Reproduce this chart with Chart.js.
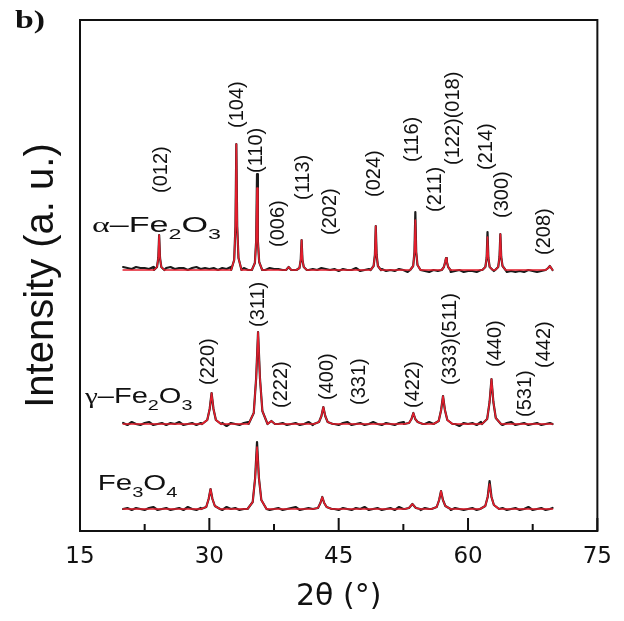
<!DOCTYPE html>
<html>
<head>
<meta charset="utf-8">
<script src="https://cdn.jsdelivr.net/npm/chart.js@4.4.0/dist/chart.umd.min.js"></script>
<style>
  html, body { margin: 0; padding: 0; background: #fff; }
  canvas { display: block; }
</style>
</head>
<body>
<canvas id="xrdChart" width="624" height="621"></canvas>
<script>
// 2theta sampling of the measured (noisy) baseline
const twoTheta = [20, 20.5, 21, 21.5, 22, 22.5, 23, 23.5, 24, 24.5, 25, 25.5, 26, 26.5, 27, 27.5, 28, 28.5, 29, 29.5,
  30, 30.5, 31, 31.5, 32, 32.5, 33, 33.5, 34, 34.5, 35, 35.5, 36, 36.5, 37, 37.5, 38, 38.5, 39, 39.5,
  40, 40.5, 41, 41.5, 42, 42.5, 43, 43.5, 44, 44.5, 45, 45.5, 46, 46.5, 47, 47.5, 48, 48.5, 49, 49.5,
  50, 50.5, 51, 51.5, 52, 52.5, 53, 53.5, 54, 54.5, 55, 55.5, 56, 56.5, 57, 57.5, 58, 58.5, 59, 59.5,
  60, 60.5, 61, 61.5, 62, 62.5, 63, 63.5, 64, 64.5, 65, 65.5, 66, 66.5, 67, 67.5, 68, 68.5, 69, 69.5, 69.8];

// baseline noise of the measured patterns (a.u., relative to each pattern's offset)
const alphaNoise = [3, 2, 1, 3, 2, 2, 1, 3, 2, 1, 2, 3, 1, 2, 2, 0, 2, 3, 1, 2,
  1, 2, 0, 2, 1, 3, 1, 1, 2, 0, 1, 2, 1, 0, 2, 1, 1, 0, 2, 1,
  0, 1, 2, 0, 1, 0, 2, 1, 0, 1, -1, 1, 0, 0, 2, -1, 0, 1, -1, 0,
  1, -1, 0, -1, 1, 0, -2, 0, -1, 0, -1, -2, 0, -1, -1, 0, -2, -1, 0, -2,
  -1, -1, -2, 0, -1, -2, -1, -2, 0, -2, -1, -2, -1, -2, 0, -1, -2, -1, -2, -1, -1];
const gammaNoise = [1, -1, 2, 0, -1, 1, 2, -1, 0, 1, -1, 1, 0, 2, -1, 0, 1, -1, 1, 0,
  2, -1, 0, 1, -2, 1, 0, -1, 1, 2, 0, -1, 1, 0, -1, 2, 0, 1, -1, 0,
  1, -1, 0, 2, -1, 1, 0, -2, 1, 0, -1, 1, 2, -1, 0, 1, -1, 0, 2, 0,
  -1, 1, 0, -1, 1, 2, -1, 0, 1, -1, 0, 2, -1, 1, 0, -1, 1, 0, -2, 1,
  0, 1, -1, 2, 0, -1, 1, 0, -1, 1, 2, -1, 0, 1, -1, 0, 1, -1, 0, 1, 0];
const magNoise = [0, 1, -1, 1, 0, -1, 1, 2, -1, 0, 1, -1, 0, 1, -1, 2, 0, -1, 1, 0,
  -1, 1, 0, -1, 2, 0, 1, -1, 0, 1, -1, 0, 1, 2, -1, 0, 1, -1, 0, 1,
  2, -1, 0, 1, -1, 0, 2, -1, 1, 0, -1, 1, 0, -1, 1, 0, 2, -1, 0, 1,
  -1, 0, 1, -1, 2, 0, -1, 1, 0, -1, 1, 0, 2, -1, 0, 1, -1, 1, 0, -1,
  0, 1, -1, 2, 0, -1, 1, 0, 1, -1, 0, 1, -1, 0, 2, -1, 0, 1, -1, 0, 1];

// peak profiles [2theta, intensity above baseline]
const alphaPeaks = [
  [[23.58, 0], [23.93, 3], [24.08, 12], [24.18, 35], [24.28, 12], [24.43, 3], [24.78, 0]],
  [[32.53, 0], [32.88, 10], [33.03, 44], [33.13, 126], [33.23, 44], [33.38, 12], [33.73, 0]],
  [[34.93, 0], [35.28, 7], [35.43, 29], [35.53, 82], [35.63, 29], [35.78, 8], [36.13, 0]],
  [[38.9, 0], [39.2, 3], [39.5, 0]],
  [[40.10, 0], [40.45, 2], [40.60, 10], [40.70, 30], [40.80, 10], [40.95, 3], [41.30, 0]],
  [[48.70, 0], [49.05, 4], [49.20, 15], [49.30, 44], [49.40, 15], [49.55, 4], [49.90, 0]],
  [[53.29, 0], [53.64, 4], [53.79, 18], [53.89, 50], [53.99, 18], [54.14, 5], [54.49, 0]],
  [[56.95, 0], [57.20, 3], [57.35, 8], [57.45, 12], [57.55, 8], [57.70, 3], [57.95, 0]],
  [[61.66, 0], [62.01, 3], [62.16, 12], [62.26, 33], [62.36, 12], [62.51, 3], [62.86, 0]],
  [[63.15, 0], [63.50, 3], [63.65, 13], [63.75, 36], [63.85, 13], [64.00, 4], [64.35, 0]],
  [[69.0, 0], [69.3, 2], [69.49, 4], [69.65, 2], [69.8, 0]]
];
const gammaPeaks = [
  [[29.16, 0], [29.76, 4], [30.04, 15], [30.26, 31], [30.48, 15], [30.76, 4], [31.36, 0]],
  [[34.55, 0], [35.15, 11], [35.43, 46], [35.65, 92], [35.87, 46], [36.15, 13], [36.75, 0]],
  [[36.8, 0], [37.2, 3], [37.6, 0]],
  [[42.12, 0], [42.72, 2], [43.00, 8], [43.22, 17], [43.44, 8], [43.72, 2], [44.32, 0]],
  [[52.56, 0], [53.16, 1], [53.44, 5], [53.66, 11], [53.88, 5], [54.16, 2], [54.76, 0]],
  [[56.00, 0], [56.60, 3], [56.88, 14], [57.10, 28], [57.32, 14], [57.60, 4], [58.20, 0]],
  [[61.62, 0], [62.22, 5], [62.50, 22], [62.72, 45], [62.94, 22], [63.22, 6], [63.82, 0]]
];
const magPeaks = [
  [[29.04, 0], [29.64, 2], [29.92, 10], [30.14, 20], [30.36, 10], [30.64, 3], [31.24, 0]],
  [[34.43, 0], [35.03, 7], [35.31, 31], [35.53, 62], [35.75, 31], [36.03, 9], [36.63, 0]],
  [[42.00, 0], [42.60, 1], [42.88, 6], [43.10, 12], [43.32, 6], [43.60, 2], [44.20, 0]],
  [[52.65, 0], [53.15, 1], [53.55, 5], [53.95, 1], [54.45, 0]],
  [[55.77, 0], [56.37, 2], [56.65, 9], [56.87, 18], [57.09, 9], [57.37, 3], [57.97, 0]],
  [[61.40, 0], [62.00, 3], [62.28, 12], [62.50, 25], [62.72, 12], [63.00, 4], [63.60, 0]]
];

// where the measured (black) peak tip pokes above the red fit
const alphaBlackTips = [[35.53, 96], [53.89, 58], [62.26, 38]];
const gammaBlackTips = [];
const magBlackTips = [[35.53, 67], [62.50, 28]];

// vertical stacking of the three patterns (a.u.)
const offsets = [261, 107, 22];

// axis ticks
const xTicks = [15, 30, 45, 60, 75];
const xMinorTicks = [22.5, 37.5, 52.5, 67.5];

// reflection labels, anchored at [2theta, a.u.]
const alphaHkl = ['(012)', '(104)', '(110)', '(006)', '(113)', '(202)', '(024)', '(116)', '(211)', '(122)(018)', '(214)', '(300)', '(208)'];
const alphaHklAt = [[24.41, 338], [33.24, 403], [35.42, 358], [38.06, 284], [40.93, 331], [44.02, 296], [49.19, 334],
  [53.55, 369], [56.18, 319], [58.36, 366], [62.15, 361], [63.98, 313], [68.92, 276]];
const gammaHkl = ['(220)', '(311)', '(222)', '(400)', '(331)', '(422)', '(333)(511)', '(440)', '(531)', '(442)'];
const gammaHklAt = [[29.91, 146], [35.65, 204], [38.40, 123], [43.68, 131], [47.47, 126], [53.66, 123],
  [58.02, 146], [63.18, 164], [66.62, 114], [68.92, 163]];

// build one trace from the arrays above
function buildTrace(noise, peaks, tips, offset, measured) {
  const pts = [];
  peaks.forEach(p => p.forEach(([x, y]) => {
    const tip = tips.find(t => t[0] === x);
    pts.push({ x: x, y: offset + (measured && tip ? tip[1] : y) });
  }));
  if (measured) {
    twoTheta.forEach((x, i) => {
      const inPeak = peaks.some(p => x >= p[0][0] && x <= p[p.length - 1][0]);
      if (!inPeak) pts.push({ x: x, y: offset + noise[i] });
    });
  } else {
    pts.push({ x: twoTheta[0], y: offset }, { x: twoTheta[twoTheta.length - 1], y: offset });
  }
  return pts.sort((a, b) => a.x - b.x);
}

const RED = 'rgb(228,30,45)';
const BLACK = '#1b1b1b';

function lineSet(data, color, width, order) {
  return {
    data: data, borderColor: color, borderWidth: width, pointRadius: 0, tension: 0, fill: false,
    borderJoinStyle: 'round', borderCapStyle: 'round', order: order
  };
}

// draws text like "Fe2O3" with subscripts, stretched sideways like the original
function drawFormula(ctx, parts, px, py, stretch) {
  ctx.save();
  ctx.translate(px, py);
  ctx.scale(stretch, 1);
  ctx.textBaseline = 'alphabetic';
  ctx.textAlign = 'left';
  let cx = 0;
  parts.forEach(([txt, kind]) => {
    let dy = 0;
    if (kind === 'greek') ctx.font = '22px "Liberation Serif", serif';
    else if (kind === 'sub') { ctx.font = '15px "Liberation Sans", Arial, sans-serif'; dy = 7; }
    else ctx.font = '22px "Liberation Sans", Arial, sans-serif';
    ctx.fillText(txt, cx, dy);
    cx += ctx.measureText(txt).width;
  });
  ctx.restore();
}

const decorPlugin = {
  id: 'decor',
  beforeDraw(chart) {
    const ctx = chart.ctx;
    ctx.save();
    ctx.fillStyle = '#fff';
    ctx.fillRect(0, 0, chart.width, chart.height);
    ctx.restore();
  },
  afterDraw(chart) {
    const { ctx, chartArea: a, scales: { x, y } } = chart;
    ctx.save();
    ctx.strokeStyle = '#111';
    ctx.lineWidth = 2;
    ctx.strokeRect(a.left, a.top, a.right - a.left, a.bottom - a.top);

    // tick marks point into the plot
    ctx.beginPath();
    xTicks.forEach(v => {
      const px = x.getPixelForValue(v);
      ctx.moveTo(px, a.bottom);
      ctx.lineTo(px, a.bottom - 13);
    });
    xMinorTicks.forEach(v => {
      const px = x.getPixelForValue(v);
      ctx.moveTo(px, a.bottom);
      ctx.lineTo(px, a.bottom - 7);
    });
    ctx.stroke();

    // hkl labels, rotated
    ctx.fillStyle = '#111';
    ctx.font = '20px "Liberation Sans", Arial, sans-serif';
    ctx.textBaseline = 'middle';
    ctx.textAlign = 'left';
    const hkl = alphaHkl.map((t, i) => [t, alphaHklAt[i]]).concat(gammaHkl.map((t, i) => [t, gammaHklAt[i]]));
    hkl.forEach(([t, at]) => {
      ctx.save();
      ctx.translate(x.getPixelForValue(at[0]), y.getPixelForValue(at[1]));
      ctx.rotate(-Math.PI / 2);
      ctx.fillText(t, 0, 0);
      ctx.restore();
    });

    // phase names
    drawFormula(ctx, [['α', 'greek'], ['–', 'n'], ['Fe', 'n'], ['2', 'sub'], ['O', 'n'], ['3', 'sub']],
      x.getPixelForValue(16.38), y.getPixelForValue(299), 1.55);
    drawFormula(ctx, [['γ', 'greek'], ['–', 'n'], ['Fe', 'n'], ['2', 'sub'], ['O', 'n'], ['3', 'sub']],
      x.getPixelForValue(15.57), y.getPixelForValue(128), 1.32);
    drawFormula(ctx, [['Fe', 'n'], ['3', 'sub'], ['O', 'n'], ['4', 'sub']],
      x.getPixelForValue(17.06), y.getPixelForValue(41), 1.34);

    // panel letter
    ctx.save();
    ctx.translate(15, 28);
    ctx.scale(1.3, 1);
    ctx.font = 'bold 26px "Liberation Serif", serif';
    ctx.textBaseline = 'alphabetic';
    ctx.fillText('b)', 0, 0);
    ctx.restore();

    ctx.restore();
  }
};

const xrdChart = new Chart('xrdChart', {
  type: 'line',
  data: {
    datasets: [
      lineSet(buildTrace(alphaNoise, alphaPeaks, alphaBlackTips, offsets[0], false), RED, 1.6, 0),
      lineSet(buildTrace(gammaNoise, gammaPeaks, gammaBlackTips, offsets[1], false), RED, 1.6, 0),
      lineSet(buildTrace(magNoise, magPeaks, magBlackTips, offsets[2], false), RED, 1.6, 0),
      lineSet(buildTrace(alphaNoise, alphaPeaks, alphaBlackTips, offsets[0], true), BLACK, 2.2, 1),
      lineSet(buildTrace(gammaNoise, gammaPeaks, gammaBlackTips, offsets[1], true), BLACK, 2.2, 1),
      lineSet(buildTrace(magNoise, magPeaks, magBlackTips, offsets[2], true), BLACK, 2.2, 1)
    ]
  },
  options: {
    responsive: false,
    animation: false,
    layout: { padding: { top: 20, right: 21, left: 0, bottom: 0 } },
    plugins: {
      legend: { display: false },
      tooltip: { enabled: false }
    },
    scales: {
      x: {
        type: 'linear',
        min: 15,
        max: 75,
        afterBuildTicks: s => { s.ticks = xTicks.map(v => ({ value: v })); },
        afterFit: s => { s.height = 90; },
        grid: { display: false, drawTicks: false },
        border: { display: false },
        ticks: {
          color: '#111',
          padding: 12,
          maxRotation: 0,
          font: { family: '"DejaVu Sans", sans-serif', size: 23 }
        },
        title: {
          display: true,
          text: '2θ (°)',
          color: '#111',
          padding: { bottom: 6 },
          font: { family: '"DejaVu Sans", sans-serif', size: 30 }
        }
      },
      y: {
        min: 0,
        max: 511,
        afterFit: s => { s.width = 80; },
        grid: { display: false, drawTicks: false },
        border: { display: false },
        ticks: { display: false },
        title: {
          display: true,
          text: 'Intensity (a. u.)',
          color: '#111',
          padding: { top: 18 },
          font: { family: '"Liberation Sans", Arial, sans-serif', size: 40 }
        }
      }
    }
  },
  plugins: [decorPlugin]
});
</script>
</body>
</html>
